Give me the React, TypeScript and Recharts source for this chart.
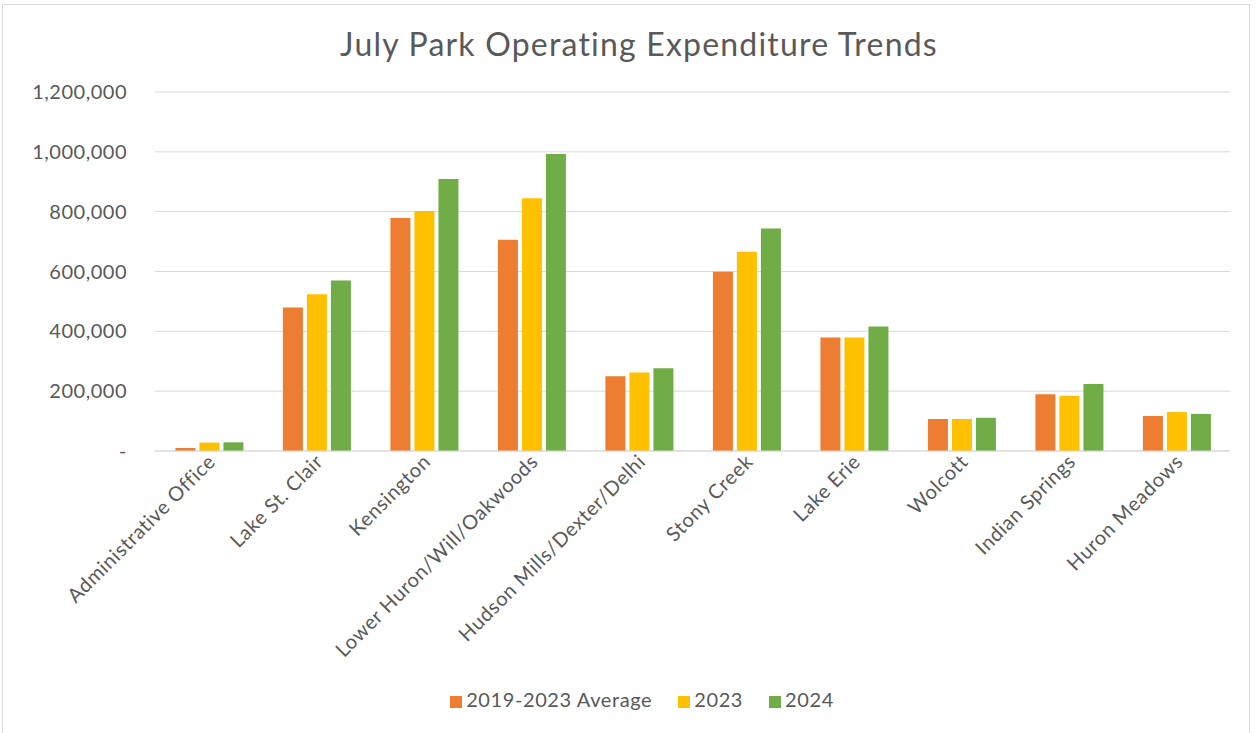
import React from 'react';
import { BarChart, Bar, XAxis, YAxis, CartesianGrid, Legend } from 'recharts';

const parks = [
  'Administrative Office',
  'Lake St. Clair',
  'Kensington',
  'Lower Huron/Will/Oakwoods',
  'Hudson Mills/Dexter/Delhi',
  'Stony Creek',
  'Lake Erie',
  'Wolcott',
  'Indian Springs',
  'Huron Meadows',
];
const avg2019to2023 = [10000, 480000, 779000, 706000, 250000, 599000, 379000, 107000, 190000, 117000];
const year2023 = [28000, 524000, 802000, 845000, 262000, 666000, 379000, 107000, 185000, 130000];
const year2024 = [29000, 570000, 909000, 993000, 277000, 744000, 416000, 111000, 224000, 124000];
const yTicks = [0, 200000, 400000, 600000, 800000, 1000000, 1200000];

const data = parks.map((name, i) => ({
  name,
  avg: avg2019to2023[i],
  y2023: year2023[i],
  y2024: year2024[i],
}));

const FONT = 'Lato, "Open Sans", sans-serif';
const TEXT = '#595959';

const fmt = (v: number) => (v === 0 ? '-' : v.toLocaleString('en-US'));

const RotatedTick = (props: any) => {
  const { x, y, payload } = props;
  return (
    <g transform={`translate(${x + 8},${y + 4})`}>
      <text
        transform="rotate(-45)"
        textAnchor="end"
        fill={TEXT}
        fontSize={20}
        fontFamily={FONT}
        letterSpacing={0.6}
      >
        {payload.value}
      </text>
    </g>
  );
};

const App: React.FC = () => {
  return (
    <div style={{ position: 'fixed', left: 0, top: 0, width: 1260, height: 733, background: '#fff' }}>
      <div
        style={{
          position: 'absolute',
          left: 2,
          top: 4,
          width: 1248,
          height: 740,
          border: '1px solid #d9d9d9',
          boxSizing: 'border-box',
        }}
      />
      <div
        style={{
          position: 'absolute',
          top: 24,
          left: 0,
          width: 1278,
          textAlign: 'center',
          fontFamily: FONT,
          fontSize: 32,
          letterSpacing: 1.2,
          color: TEXT,
        }}
      >
        July Park Operating Expenditure Trends
      </div>
      <BarChart
        width={1260}
        height={733}
        data={data}
        margin={{ top: 92, right: 30, left: 0, bottom: 22 }}
        barCategoryGap="19%"
        barGap={4}
      >
        <CartesianGrid vertical={false} stroke="#d9d9d9" />
        <XAxis
          dataKey="name"
          interval={0}
          height={236}
          tick={<RotatedTick />}
          tickLine={false}
          axisLine={{ stroke: '#d9d9d9' }}
        />
        <YAxis
          width={155}
          domain={[0, 1200000]}
          ticks={yTicks}
          tickFormatter={fmt}
          tickLine={false}
          axisLine={false}
          tickMargin={22}
          tick={{ fill: TEXT, fontSize: 20, fontFamily: FONT, letterSpacing: 0.5 }}
        />
        <Legend
          verticalAlign="bottom"
          iconType="square"
          iconSize={12}
          wrapperStyle={{ fontFamily: FONT, fontSize: 20, letterSpacing: 0.6, paddingLeft: 40 }}
          formatter={(value: string) => <span style={{ color: TEXT, marginRight: 16 }}>{value}</span>}
        />
        <Bar dataKey="avg" name="2019-2023 Average" fill="#ED7D31" isAnimationActive={false} />
        <Bar dataKey="y2023" name="2023" fill="#FFC000" isAnimationActive={false} />
        <Bar dataKey="y2024" name="2024" fill="#70AD47" isAnimationActive={false} />
      </BarChart>
    </div>
  );
};

export default App;
